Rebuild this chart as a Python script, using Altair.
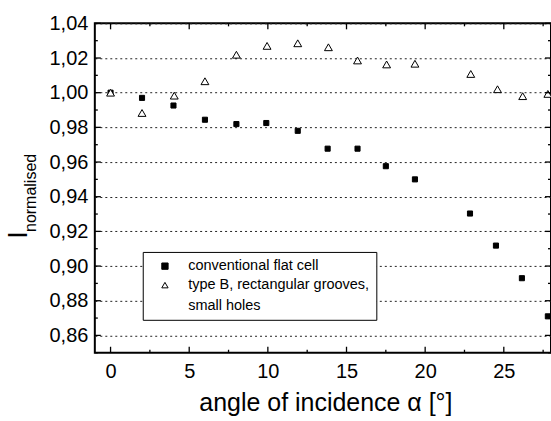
import altair as alt
import pandas as pd

# ---- data ----
S1 = "conventional flat cell"
S2 = "type B, rectangular grooves, small holes"

conv_x = [0.0, 2.0, 4.0, 6.0, 8.0, 9.9, 11.9, 13.8, 15.7, 17.5, 19.35, 22.85, 24.5, 26.15, 27.8]
conv_y = [1.000, 0.997, 0.9926, 0.9844, 0.9819, 0.9825, 0.978, 0.9677, 0.9677, 0.9576, 0.950,
          0.9303, 0.9118, 0.893, 0.871]

typeb_x = [0.0, 2.0, 4.05, 6.0, 8.0, 9.95, 11.9, 13.85, 15.7, 17.55, 19.35, 22.9, 24.6, 26.2, 27.8]
typeb_y = [1.000, 0.9883, 0.9983, 1.0066, 1.0219, 1.027, 1.0285, 1.0262, 1.0186, 1.0163, 1.0167,
           1.0108, 1.002, 0.998, 0.9993]

x_major = [0, 5, 10, 15, 20, 25]
x_minor = [2.5, 7.5, 12.5, 17.5, 22.5, 27.5]
y_major = [0.86, 0.88, 0.90, 0.92, 0.94, 0.96, 0.98, 1.00, 1.02, 1.04]
y_minor = [0.85, 0.87, 0.89, 0.91, 0.93, 0.95, 0.97, 0.99, 1.01, 1.03]

X_DOMAIN = [-1, 28]
Y_DOMAIN = [0.85, 1.04]

FONT = "Liberation Sans"

df = pd.DataFrame(
    {"x": conv_x + typeb_x,
     "y": conv_y + typeb_y,
     "series": [S1] * len(conv_x) + [S2] * len(typeb_x)}
)
df_conv = df[df.series == S1]
df_typeb = df[df.series == S2]

xs = alt.Scale(domain=X_DOMAIN, nice=False, zero=False)
ys = alt.Scale(domain=Y_DOMAIN, nice=False, zero=False)

xaxis = alt.Axis(values=x_major, title=None, grid=False, ticks=False, tickSize=0, domain=False,
                 labelFontSize=20, labelFont=FONT, labelColor="black", labelPadding=9,
                 labelFlush=False, labelOverlap=False)
yaxis = alt.Axis(values=y_major, title=None, grid=True, gridColor="#222",
                 gridDash=[2, 3], gridWidth=1, ticks=False, tickSize=0, domain=False,
                 labelFontSize=20, labelFont=FONT, labelColor="black", labelPadding=7,
                 labelFlush=False, labelOverlap=False,
                 labelExpr="replace(format(datum.value, '.2f'), '.', ',')")

NB = "\u00a0" * 8
leg = alt.Legend(
    orient="none", legendX=48, legendY=229, title=None,
    strokeColor="black", fillColor="white", padding=7,
    symbolOffset=8, labelOffset=16, symbolSize=40,
    symbolStrokeColor="black", symbolStrokeWidth=1,
    labelFontSize=14.5, labelFont=FONT, labelColor="black", labelLimit=400,
    rowPadding=4,
    labelExpr=("datum.label == '" + S1 + "' ? datum.label : "
               "['type B, rectangular grooves," + NB + "', 'small holes']"),
)

shape_enc = alt.Shape("series:N", scale=alt.Scale(domain=[S1, S2], range=["square", "triangle-up"]),
                      legend=leg)
fill_enc = alt.Fill("series:N", scale=alt.Scale(domain=[S1, S2], range=["black", "white"]),
                    legend=leg)
stroke_enc = alt.Stroke("series:N", scale=alt.Scale(domain=[S1, S2], range=["black", "black"]),
                        legend=leg)

squares = alt.Chart(df_conv).mark_point(strokeWidth=1, opacity=1, size=26).encode(
    x=alt.X("x:Q", scale=xs, axis=xaxis),
    y=alt.Y("y:Q", scale=ys, axis=yaxis),
    shape=shape_enc, fill=fill_enc, stroke=stroke_enc,
)
triangles = alt.Chart(df_typeb).mark_point(strokeWidth=1, opacity=1, size=62).encode(
    x=alt.X("x:Q", scale=xs, axis=xaxis),
    y=alt.Y("y:Q", scale=ys, axis=yaxis),
    shape=shape_enc, fill=fill_enc, stroke=stroke_enc,
)

# inward tick marks on all four sides
def xticks(vals, length, ypos, sign):
    d = pd.DataFrame({"v": vals})
    return alt.Chart(d).mark_tick(orient="vertical", size=length, thickness=1.3, color="black",
                                  opacity=1, yOffset=sign * length / 2).encode(
        x=alt.X("v:Q", scale=xs, axis=xaxis), y=alt.YDatum(ypos, axis=yaxis))

def yticks(vals, length, xpos, sign):
    d = pd.DataFrame({"v": vals})
    return alt.Chart(d).mark_tick(orient="horizontal", size=length, thickness=1.3, color="black",
                                  opacity=1, xOffset=sign * length / 2).encode(
        y=alt.Y("v:Q", scale=ys, axis=yaxis), x=alt.XDatum(xpos, axis=xaxis))

ticks = [
    xticks(x_major, 6, Y_DOMAIN[0], -1), xticks(x_minor, 3, Y_DOMAIN[0], -1),
    xticks(x_major, 6, Y_DOMAIN[1], 1), xticks(x_minor, 3, Y_DOMAIN[1], 1),
    yticks(y_major, 6, X_DOMAIN[0], 1), yticks(y_minor, 3, X_DOMAIN[0], 1),
    yticks(y_major, 6, X_DOMAIN[1], -1), yticks(y_minor, 3, X_DOMAIN[1], -1),
]

one = pd.DataFrame({"k": [0]})
xtitle = alt.Chart(one).mark_text(text="angle of incidence α [°]", fontSize=25, font=FONT,
                                  color="black", align="center", baseline="alphabetic").encode(
    x=alt.value(231.5), y=alt.value(388.7))
ytitle_i = alt.Chart(one).mark_text(text="I", fontSize=27, font=FONT, color="black",
                                    angle=270, align="center", baseline="alphabetic").encode(
    x=alt.value(-68), y=alt.value(212))
ytitle_sub = alt.Chart(one).mark_text(text="normalised", fontSize=16, font=FONT, color="black",
                                      angle=270, align="left", baseline="alphabetic").encode(
    x=alt.value(-58.5), y=alt.value(209))

chart = alt.layer(
    squares, triangles, *ticks, xtitle, ytitle_i, ytitle_sub
).properties(
    width=457, height=330,
    autosize=alt.AutoSizeParams(type="none"),
    padding={"left": 95, "top": 23, "right": 0, "bottom": 68},
).configure(
    background="white",
    view=alt.ViewConfig(stroke="black", strokeWidth=2),
    style={"guide-label": {"lineHeight": 21}},
)

chart.save("out.html", embed_options={"renderer": "svg", "actions": False})
